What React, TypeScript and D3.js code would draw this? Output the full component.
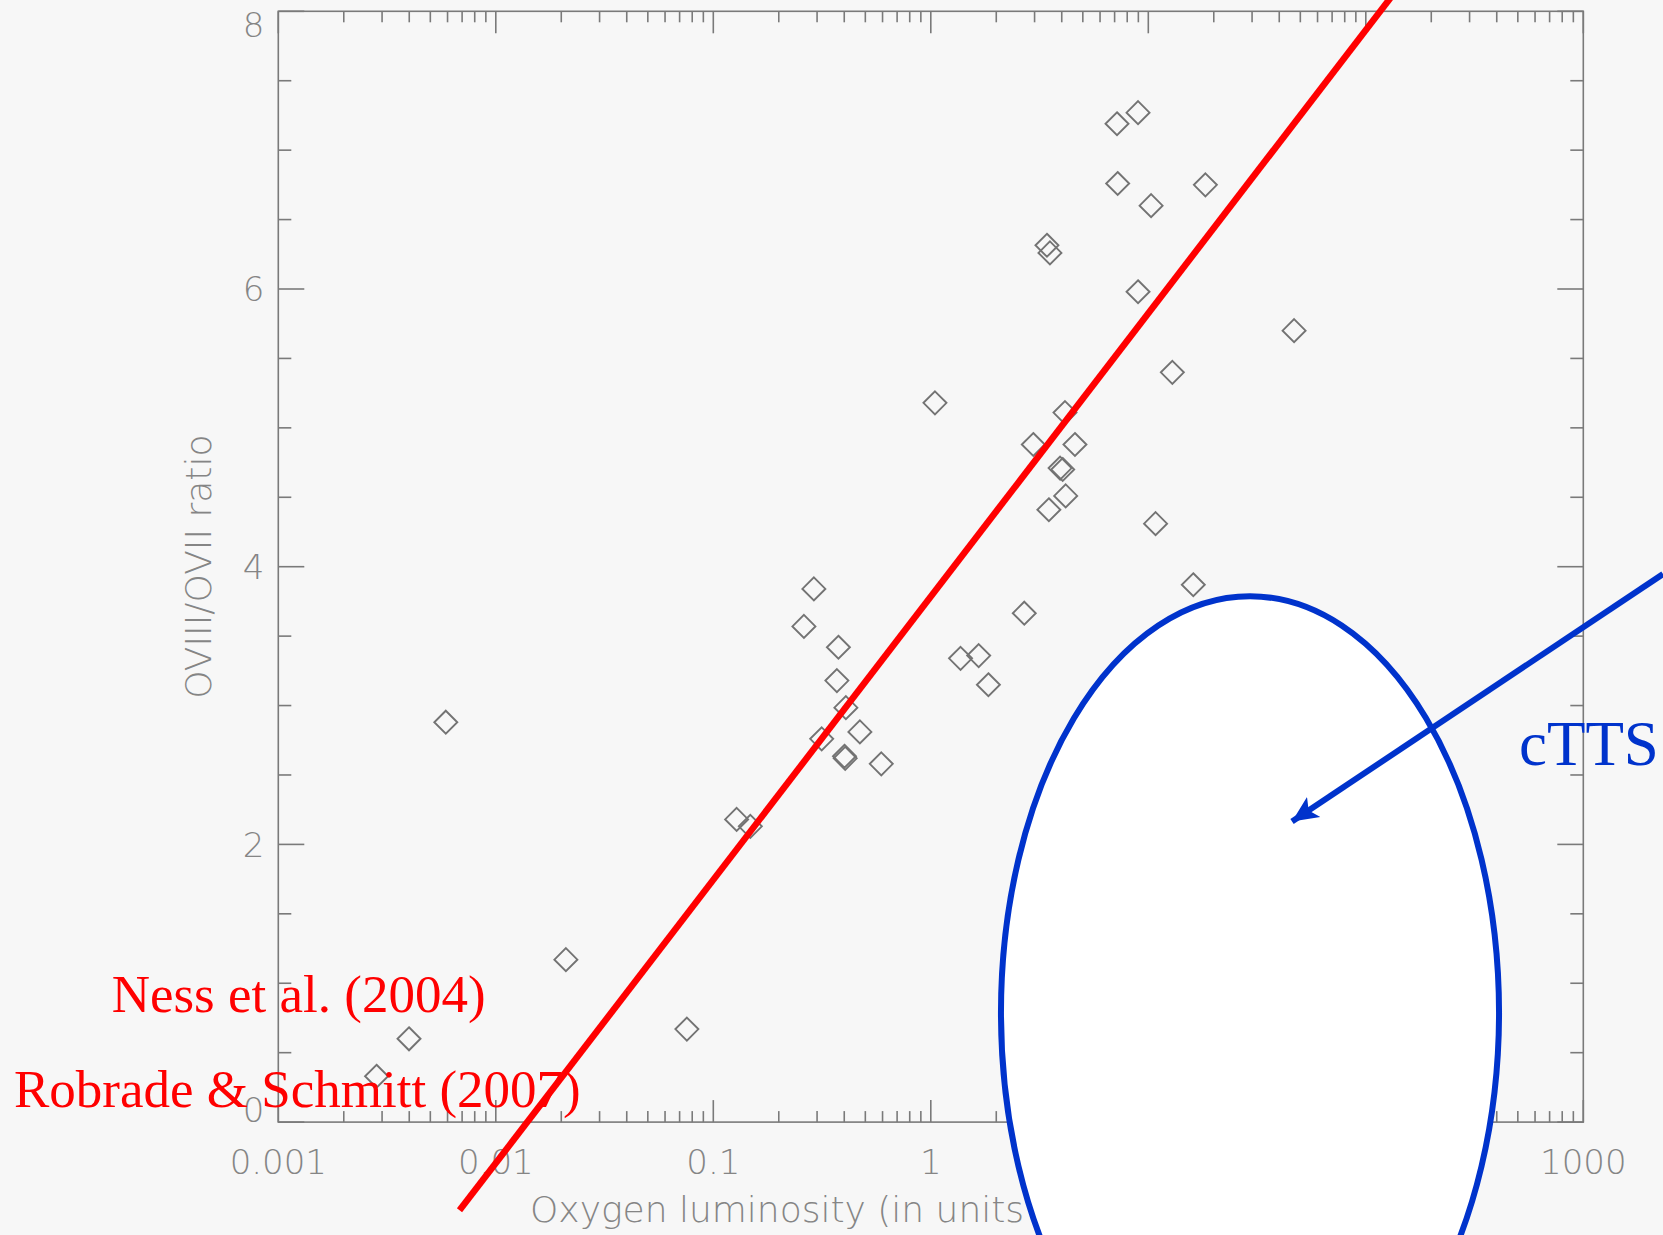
import React from "react";
import * as d3 from "d3";

// Oxygen luminosity (units of 10^27 erg/s) and O VIII / O VII ratio for each star
const luminosity = [
  0.00283, 0.00399, 0.00589, 0.021, 0.0756, 0.128, 0.148, 0.261, 0.29, 0.376,
  0.37, 0.407, 0.315, 0.472, 0.404, 0.401, 0.592, 1.045, 1.37, 1.66, 1.84,
  2.69, 2.96, 3.42, 3.53, 3.49, 4.14, 3.93, 4.04, 4.17, 4.6, 7.18, 8.97, 7.23,
  10.3, 8.97, 18.3, 12.9, 10.8, 16.1, 46.8,
];
const ratio = [
  0.33, 0.6, 2.88, 1.17, 0.67, 2.18, 2.13, 3.57, 3.84, 3.42, 3.18, 2.985, 2.76,
  2.81, 2.62, 2.635, 2.58, 5.18, 3.34, 3.36, 3.15, 3.665, 4.88, 6.315, 6.26,
  4.41, 5.11, 4.71, 4.7, 4.51, 4.88, 7.19, 7.27, 6.76, 6.6, 5.98, 6.75, 5.4,
  4.31, 3.87, 5.7,
];

// Axis ticks
const xMajorTicks = [0.001, 0.01, 0.1, 1, 10, 100, 1000];
const xTickLabels = ["0.001", "0.01", "0.1", "1", "10", "100", "1000"];
const yMajorTicks = [0, 2, 4, 6, 8];
const yTickLabels = ["0", "2", "4", "6", "8"];
const yMinorStep = 0.5;

// Linear fit: ratio = fitIntercept + fitSlope * log10(L)
const fitIntercept = 3.785;
const fitSlope = 2.04;
const fitRange = [0.00681, 200];

// cTTS region (centre in data units, half-width in decades, half-height in ratio units)
const cttsCenter = [29.35, 0.787];
const cttsHalfDecades = 1.145;
const cttsHalfRatio = 3.0;
const cttsArrowFrom = [2324, 3.947];
const cttsArrowTo = [45.8, 2.165];
const cttsLabelAt = [506, 2.569];

const xTitle = "Oxygen luminosity (in units of 10\u00b2\u2077 erg/s)";
const yTitle = "OVIII/OVII ratio";
const references = ["Ness et al. (2004)", "Robrade & Schmitt (2007)"];
const cttsLabel = "cTTS";

const W = 1663;
const H = 1235;
const plot = { left: 278.3, right: 1583.3, top: 11.3, bottom: 1122.1 };

const axisColor = "#7a7a7a";
const labelColor = "#858585";
const markerColor = "#737373";
const red = "#ff0000";
const blue = "#0033cc";
const grayFont = "'DejaVu Sans', sans-serif";
const serifFont = "'Liberation Serif', 'Times New Roman', serif";

export default function App() {
  const x = d3.scaleLog().domain([0.001, 1000]).range([plot.left, plot.right]);
  const y = d3.scaleLinear().domain([0, 8]).range([plot.bottom, plot.top]);

  const xMinor: number[] = [];
  for (let i = 0; i < xMajorTicks.length - 1; i++) {
    for (let k = 2; k <= 9; k++) xMinor.push(xMajorTicks[i] * k);
  }
  const yMinor = d3.range(0, 8 + 1e-9, yMinorStep).filter((v) => !yMajorTicks.includes(v));

  const xMajorLen = 22;
  const xMinorLen = 11;
  const yMajorLen = 26;
  const yMinorLen = 13;

  const tickFont = 34;
  const capH = tickFont * 0.729;

  const fitLine = d3
    .line<number>()
    .x((d) => x(d))
    .y((d) => y(fitIntercept + fitSlope * Math.log10(d)));

  const r = 11.5;
  const diamondPath = `M0,${-r}L${r},0L0,${r}L${-r},0Z`;

  const ecx = x(cttsCenter[0]);
  const ecy = y(cttsCenter[1]);
  const erx = x(cttsCenter[0] * Math.pow(10, cttsHalfDecades)) - ecx;
  const ery = ecy - y(cttsCenter[1] + cttsHalfRatio);

  return (
    <svg
      width={W}
      height={H}
      viewBox={`0 0 ${W} ${H}`}
      style={{ position: "absolute", left: 0, top: 0, display: "block" }}
    >
      <defs>
        <marker
          id="arrowHead"
          markerUnits="userSpaceOnUse"
          markerWidth={30}
          markerHeight={26}
          refX={26}
          refY={13}
          orient="auto"
        >
          <path d="M0,1 L26,13 L0,25 L6,13 Z" fill={blue} />
        </marker>
      </defs>
      <rect x={0} y={0} width={W} height={H} fill="#f7f7f7" />

      {/* frame */}
      <rect
        x={plot.left}
        y={plot.top}
        width={plot.right - plot.left}
        height={plot.bottom - plot.top}
        fill="none"
        stroke={axisColor}
        strokeWidth={1.6}
      />

      {/* ticks on all four sides */}
      <g stroke={axisColor} strokeWidth={1.6}>
        {xMajorTicks.map((t) => (
          <g key={`xM${t}`}>
            <line x1={x(t)} x2={x(t)} y1={plot.bottom} y2={plot.bottom - xMajorLen} />
            <line x1={x(t)} x2={x(t)} y1={plot.top} y2={plot.top + xMajorLen} />
          </g>
        ))}
        {xMinor.map((t) => (
          <g key={`xm${t}`}>
            <line x1={x(t)} x2={x(t)} y1={plot.bottom} y2={plot.bottom - xMinorLen} />
            <line x1={x(t)} x2={x(t)} y1={plot.top} y2={plot.top + xMinorLen} />
          </g>
        ))}
        {yMajorTicks.map((t) => (
          <g key={`yM${t}`}>
            <line x1={plot.left} x2={plot.left + yMajorLen} y1={y(t)} y2={y(t)} />
            <line x1={plot.right} x2={plot.right - yMajorLen} y1={y(t)} y2={y(t)} />
          </g>
        ))}
        {yMinor.map((t) => (
          <g key={`ym${t}`}>
            <line x1={plot.left} x2={plot.left + yMinorLen} y1={y(t)} y2={y(t)} />
            <line x1={plot.right} x2={plot.right - yMinorLen} y1={y(t)} y2={y(t)} />
          </g>
        ))}
      </g>

      {/* tick labels */}
      <g fill={labelColor} fontFamily={grayFont} fontWeight={200} fontSize={tickFont}>
        {xMajorTicks.map((t, i) => (
          <text key={`xl${t}`} x={x(t)} y={1162 + capH / 2} textAnchor="middle">
            {xTickLabels[i]}
          </text>
        ))}
        {yMajorTicks.map((t, i) => {
          const base = Math.min(plot.bottom, Math.max(plot.top + capH + 1, y(t) + capH / 2));
          return (
            <text key={`yl${t}`} x={plot.left - 14} y={base} textAnchor="end">
              {yTickLabels[i]}
            </text>
          );
        })}
      </g>

      {/* axis titles */}
      <g fill={labelColor} fontFamily={grayFont} fontWeight={200} fontSize={36}>
        <text x={530} y={1222}>
          {xTitle}
        </text>
        <text
          transform={`translate(211, ${(plot.top + plot.bottom) / 2}) rotate(-90)`}
          textAnchor="middle"
        >
          {yTitle}
        </text>
      </g>

      {/* measurements */}
      <g fill="none" stroke={markerColor} strokeWidth={1.9}>
        {luminosity.map((L, i) => (
          <path key={i} d={diamondPath} transform={`translate(${x(L)},${y(ratio[i])})`} />
        ))}
      </g>

      {/* fit */}
      <path d={fitLine(fitRange) || ""} fill="none" stroke={red} strokeWidth={6.5} />

      {/* cTTS region */}
      <ellipse cx={ecx} cy={ecy} rx={erx} ry={ery} fill="#ffffff" stroke={blue} strokeWidth={6} />
      <line
        x1={x(cttsArrowFrom[0])}
        y1={y(cttsArrowFrom[1])}
        x2={x(cttsArrowTo[0])}
        y2={y(cttsArrowTo[1])}
        stroke={blue}
        strokeWidth={6}
        markerEnd="url(#arrowHead)"
      />
      <text
        x={x(cttsLabelAt[0])}
        y={y(cttsLabelAt[1])}
        fill={blue}
        fontFamily={serifFont}
        fontSize={63}
      >
        {cttsLabel}
      </text>

      {/* references */}
      <g fill={red} fontFamily={serifFont} fontSize={53}>
        <text x={111.7} y={1011.7}>
          {references[0]}
        </text>
        <text x={14} y={1106.7}>
          {references[1]}
        </text>
      </g>
    </svg>
  );
}
